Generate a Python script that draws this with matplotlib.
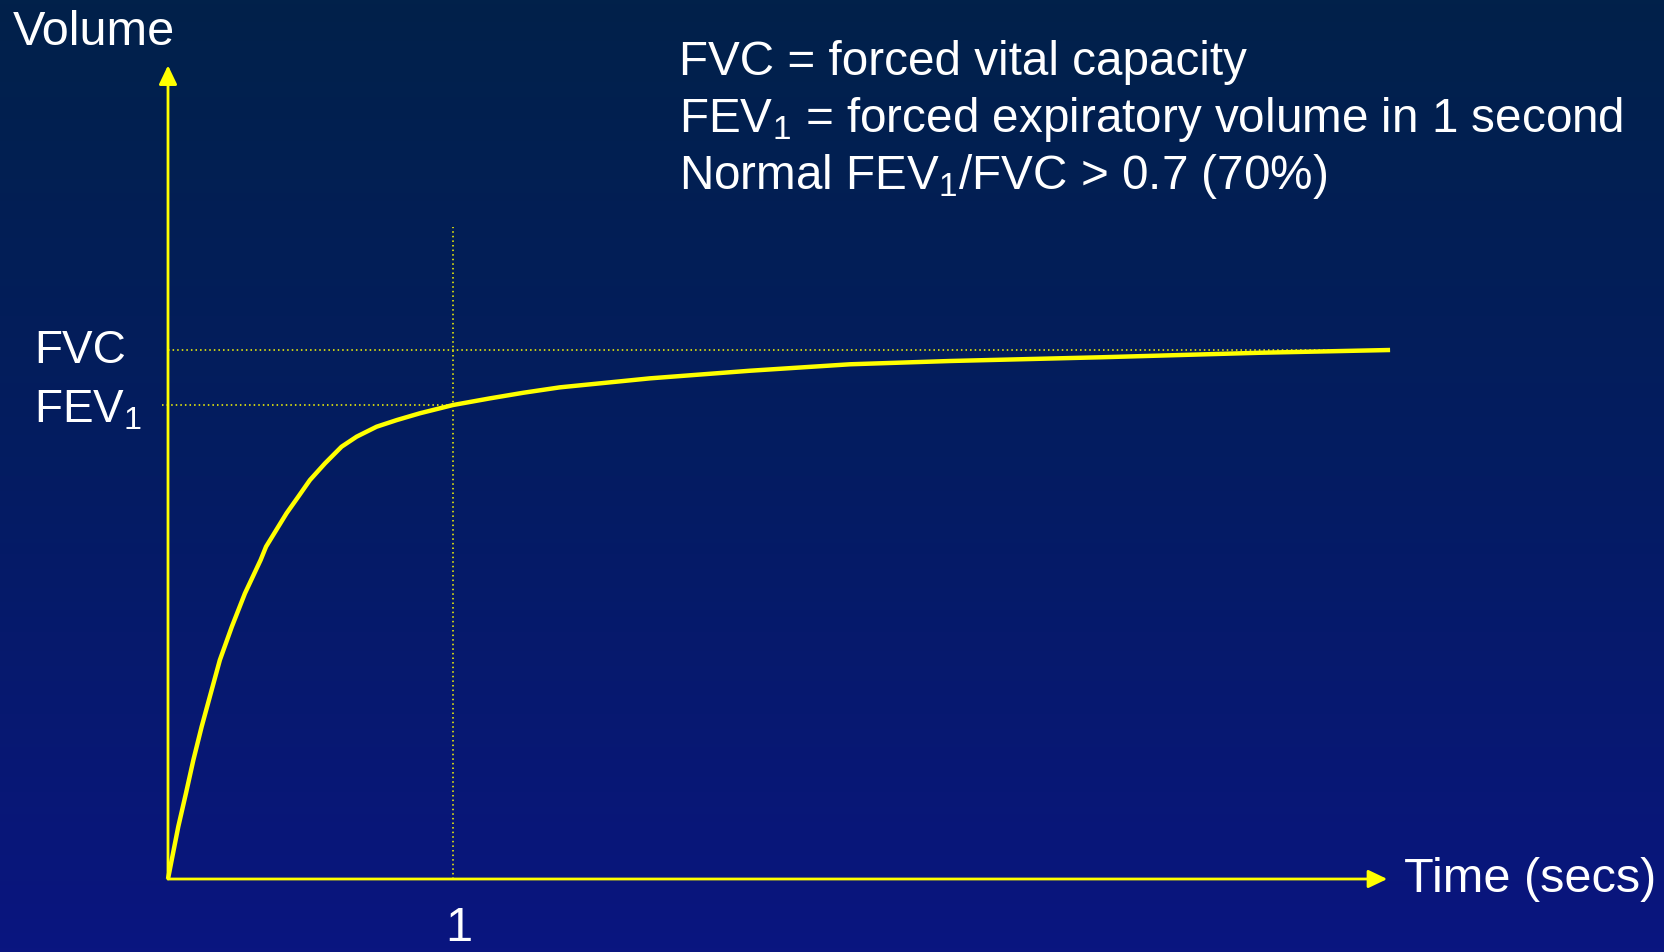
import matplotlib.pyplot as plt
import numpy as np
from matplotlib.colors import LinearSegmentedColormap

# spirometry curve: time in secs, volume in litres
time_s = [0.0, 0.013, 0.036, 0.063, 0.089, 0.118, 0.150, 0.182, 0.224, 0.270,
          0.325, 0.344, 0.416, 0.457, 0.498, 0.551, 0.609, 0.662, 0.732, 0.803,
          0.884, 1.0, 1.130, 1.247, 1.375, 1.691, 2.042, 2.393, 2.744, 3.270,
          3.832, 4.288]
volume_l = [0.0, 0.180, 0.494, 0.810, 1.125, 1.439, 1.755, 2.070, 2.385, 2.700,
            3.015, 3.141, 3.457, 3.613, 3.771, 3.929, 4.086, 4.181, 4.275, 4.338,
            4.402, 4.480, 4.543, 4.596, 4.647, 4.732, 4.804, 4.865, 4.896, 4.931,
            4.974, 5.0]
x_ticks = [1]
x_tick_labels = ["1"]
notes = ["FVC = forced vital capacity",
         r"FEV$\mathregular{_1}$ = forced expiratory volume in 1 second",
         r"Normal FEV$\mathregular{_1}$/FVC > 0.7 (70%)"]

plt.rcParams['font.family'] = ['Liberation Sans', 'DejaVu Sans']

W, H = 1665, 952
x0, y0 = 168, 879            # pixel position of the origin
sx, sy = 285, 529 / 5.0      # pixels per second / per litre

fig = plt.figure(figsize=(W / 100, H / 100), dpi=100)
ax = fig.add_axes([0, 0, 1, 1])
xlim = (-x0 / sx, (W - x0) / sx)
ylim = (-(H - y0) / sy, y0 / sy)

# background gradient, dark navy at top to blue at bottom
cmap = LinearSegmentedColormap.from_list("bg", ["#0a1580", "#041c62", "#01214a"])
grad = np.linspace(0, 1, 256).reshape(-1, 1)
ax.imshow(grad, extent=(xlim[0], xlim[1], ylim[0], ylim[1]), origin="lower",
          aspect="auto", cmap=cmap, zorder=0)
ax.set_xlim(*xlim)
ax.set_ylim(*ylim)
ax.axis("off")

yellow = "#ffff00"
fvc = volume_l[-1]
fev1 = volume_l[time_s.index(1.0)]
t_end = time_s[-1]

# dotted guide lines
dot = (0, (1, 2))
ax.plot([0, t_end], [fvc, fvc], color=yellow, lw=1.1, ls=dot, zorder=2)
ax.plot([-0.02, 1], [fev1, fev1], color=yellow, lw=1.1, ls=dot, zorder=2)
ax.plot([1, 1], [0, 6.16], color=yellow, lw=1.1, ls=dot, zorder=2)

# axes with arrow heads
arrow = dict(arrowstyle="-|>,head_length=1.15,head_width=0.55", lw=2,
             color=yellow, shrinkA=0, shrinkB=0, mutation_scale=10)
ax.annotate("", xy=(0, 7.69), xytext=(0, 0), arrowprops=arrow, zorder=3)
ax.annotate("", xy=(t_end - 0.01, 0), xytext=(0, 0), arrowprops=arrow, zorder=3)

# the curve
ax.plot(time_s, volume_l, color=yellow, lw=3.2, zorder=4,
        solid_joinstyle="round", solid_capstyle="butt")

def ftext(x, y, s, size, **kw):
    fig.text(x / W, 1 - y / H, s, fontsize=size, color="white", va="baseline", **kw)

ftext(13, 45, "Volume", 35)
ftext(1404, 892, "Time (secs)", 35)
ftext(34, 363, "FVC", 33)
ftext(34, 422, r"FEV$\mathregular{_1}$", 33)
for t, lab in zip(x_ticks, x_tick_labels):
    ax.text(t + 0.02, (y0 - 941) / sy, lab, fontsize=35, color="white",
            ha="center", va="baseline")
for i, line in enumerate(notes):
    ftext(679, 75 + 57 * i, line, 34.3)

fig.savefig("out.png", dpi=100)
